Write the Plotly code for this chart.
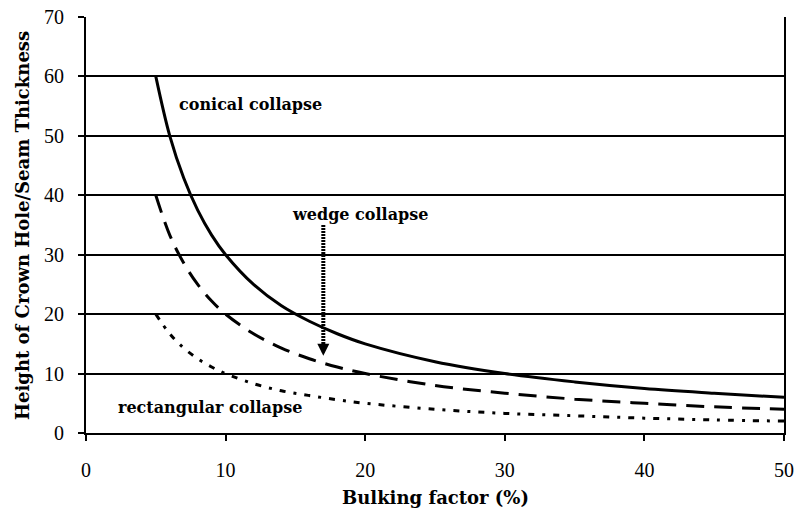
import plotly.graph_objects as go

bulking = [5, 6, 7, 8, 9, 10, 12, 14, 16, 18, 20, 25, 30, 35, 40, 45, 50]
conical = [60, 50, 42.9, 37.5, 33.3, 30, 25, 21.4, 18.8, 16.7, 15, 12, 10, 8.6, 7.5, 6.7, 6]
wedge = [40, 33.3, 28.6, 25, 22.2, 20, 16.7, 14.3, 12.5, 11.1, 10, 8, 6.7, 5.7, 5, 4.4, 4]
rectangular = [20, 16.7, 14.3, 12.5, 11.1, 10, 8.3, 7.1, 6.3, 5.6, 5, 4, 3.3, 2.9, 2.5, 2.2, 2]

arrow_x = [17, 17]
arrow_y = [35, 14]

labels = [
    ("conical collapse", 11.8, 55.2),
    ("wedge collapse", 19.6, 36.8),
    ("rectangular collapse", 8.9, 4.3),
]

x_title = "Bulking factor (%)"
y_title = "Height of Crown Hole/Seam Thickness"

FONT = "Liberation Serif"
LFONT = "DejaVu Serif"

fig = go.Figure()
fig.add_trace(go.Scatter(x=bulking, y=conical, mode="lines",
                         line=dict(color="black", width=3, shape="spline")))
fig.add_trace(go.Scatter(x=bulking, y=wedge, mode="lines",
                         line=dict(color="black", width=3, shape="spline", dash="18px,10px")))
fig.add_trace(go.Scatter(x=bulking, y=rectangular, mode="lines",
                         line=dict(color="black", width=3, shape="spline", dash="6px,8px,3px,8px")))
fig.add_trace(go.Scatter(x=arrow_x, y=arrow_y, mode="lines",
                         line=dict(color="black", width=4, dash="2px,1px")))
fig.add_annotation(x=arrow_x[1], y=arrow_y[1] - 1.0, ax=arrow_x[1], ay=arrow_y[1] + 0.5,
                   xref="x", yref="y", axref="x", ayref="y", text="",
                   showarrow=True, arrowhead=2, arrowsize=0.8, arrowwidth=3, arrowcolor="black")

for txt, lx, ly in labels:
    fig.add_annotation(x=lx, y=ly, text="<b>" + txt + "</b>", showarrow=False,
                       font=dict(family=LFONT, size=16, color="black"), xref="x", yref="y")

# axis titles
fig.add_annotation(x=0.5, y=-0.154, xref="paper", yref="paper", text="<b>" + x_title + "</b>",
                   showarrow=False, yanchor="middle", xanchor="center",
                   font=dict(family=LFONT, size=18, color="black"))
fig.add_annotation(x=-0.0917, y=0.5, xref="paper", yref="paper", text="<b>" + y_title + "</b>",
                   showarrow=False, textangle=-90, yanchor="middle", xanchor="center",
                   font=dict(family=LFONT, size=18, color="black"))

fig.update_layout(
    width=796, height=515,
    margin=dict(l=86, r=12, t=17, b=82),
    paper_bgcolor="white", plot_bgcolor="white",
    showlegend=False,
    font=dict(family=FONT, size=20, color="black"),
)
fig.update_xaxes(range=[0, 50], dtick=10, showgrid=False, zeroline=False, automargin=False,
                 showline=True, linecolor="black", linewidth=2,
                 ticks="outside", ticklen=6, tickwidth=2, tickcolor="black",
                 ticklabelstandoff=12,
                 tickfont=dict(family=FONT, size=20))
fig.update_yaxes(range=[0, 70], dtick=10, showgrid=True, gridcolor="black", gridwidth=2,
                 zeroline=False, showline=True, linecolor="black", linewidth=2, mirror=True,
                 automargin=False,
                 ticks="outside", ticklen=6, tickwidth=2, tickcolor="black",
                 ticklabelstandoff=10,
                 tickfont=dict(family=FONT, size=20))

fig.write_html("out.html", config={"displayModeBar": False},
               post_script="document.body.style.margin='0';")
